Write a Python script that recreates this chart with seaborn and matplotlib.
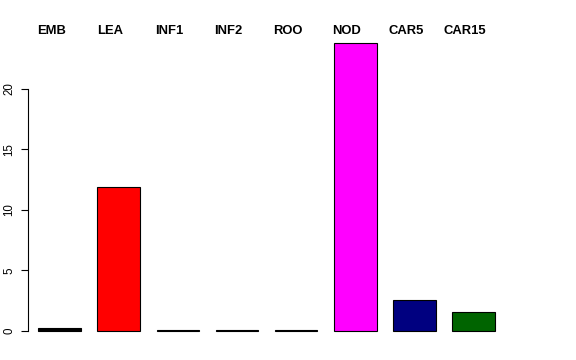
import matplotlib
matplotlib.use("Agg")
import matplotlib.pyplot as plt
import seaborn as sns
import pandas as pd

categories = ["EMB", "LEA", "INF1", "INF2", "ROO", "NOD", "CAR5", "CAR15"]
values = [0.27, 11.9, 0.05, 0.05, 0.05, 23.8, 2.55, 1.57]
colors = ["#000000", "#ff0000", "#1e4a1e", "#1c1c70", "#4a2a2a", "#ff00ff", "#000080", "#006400"]
yticks = [0, 5, 10, 15, 20]

sns.set_style("white")
plt.rcParams["font.family"] = ["Liberation Sans", "DejaVu Sans"]
plt.rcParams["text.color"] = "black"
plt.rcParams["ytick.color"] = "black"
plt.rcParams["ytick.labelcolor"] = "black"

df = pd.DataFrame({"cat": categories, "val": values})

fig = plt.figure(figsize=(5.76, 3.6), dpi=100)
ax = fig.add_axes([28.3 / 576, (360 - 337) / 360, 480.7 / 576, (337 - 34.2) / 360])

sns.barplot(data=df, x="cat", y="val", hue="cat", palette=colors, legend=False,
            width=0.72, edgecolor="black", linewidth=0.8, saturation=1, ax=ax)

ax.set_xlim(-0.528, 7.6)
ax.set_ylim(-0.5, 24.5)

for s in ["top", "right", "bottom"]:
    ax.spines[s].set_visible(False)
ax.spines["left"].set_bounds(0, 20)
ax.spines["left"].set_color("black")
ax.spines["left"].set_linewidth(0.8)

ax.set_xticks([])
ax.set_yticks(yticks)
ax.set_yticklabels([str(t) for t in yticks], rotation=90, va="center", color="black")
ax.tick_params(axis="y", left=True, length=5, width=0.8, pad=4.3, labelsize=8.3,
               color="black", labelcolor="black")
ax.set_xlabel("")
ax.set_ylabel("")

for i, c in enumerate(categories):
    ax.text(i - 0.14, 24.76, c, ha="center", va="center", fontsize=9.4,
            fontweight="bold", color="black", clip_on=False)

fig.savefig("out.png", dpi=100)
